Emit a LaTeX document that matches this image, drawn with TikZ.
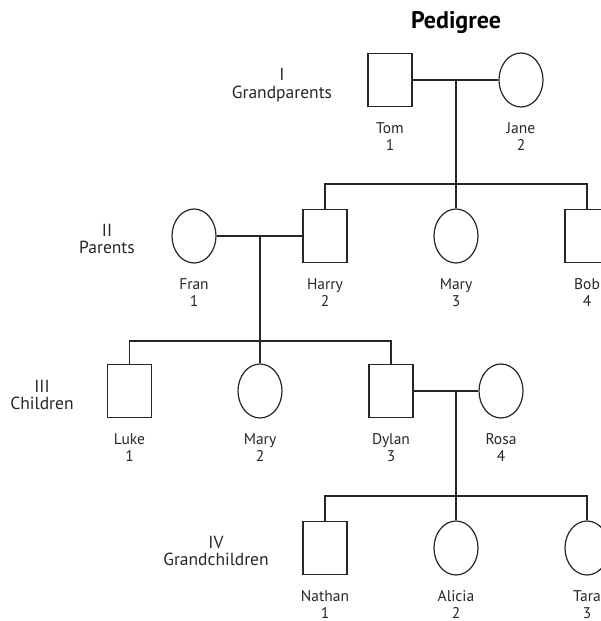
\documentclass[tikz,border=0pt]{standalone}
\usepackage{fontspec}
\setmainfont{PT Sans}
\usetikzlibrary{shapes.geometric}
\tikzset{
  male/.style={draw=black!85, line width=1.2pt, rectangle, minimum width=44pt, minimum height=53pt, inner sep=0pt},
  female/.style={draw=black!85, line width=1.2pt, ellipse, minimum width=44pt, minimum height=54pt, inner sep=0pt},
  lbl/.style={anchor=base, inner sep=0pt, font=\fontsize{15.5}{16}\selectfont, text=black!85},
  gen/.style={anchor=base, inner sep=0pt, font=\fontsize{17.5}{18}\selectfont, text=black!85},
  conn/.style={draw=black!85, line width=1.2pt},
}
\begin{document}
\begin{tikzpicture}[x=1pt,y=-1pt]
\useasboundingbox (0,0) rectangle (600,621);
% title
\node[anchor=base, inner sep=0pt, font=\fontsize{24}{26}\selectfont\bfseries] (title) at (456,28) {Pedigree};
% generation labels
\node[gen] (g1a) at (282,80) {I};
\node[gen] (g1b) at (282,98) {Grandparents};
\node[gen] (g2a) at (107,236) {II};
\node[gen] (g2b) at (107,253) {Parents};
\node[gen] (g3a) at (42,392) {III};
\node[gen] (g3b) at (42,409) {Children};
\node[gen] (g4a) at (216,548) {IV};
\node[gen] (g4b) at (216,565) {Grandchildren};
% generation I
\node[male] (tom) at (390,80) {};
\node[female] (jane) at (521,80) {};
\node[lbl] (tomn) at (390,133) {Tom};
\node[lbl] (tomk) at (390,150) {1};
\node[lbl] (janen) at (521,133) {Jane};
\node[lbl] (janek) at (521,150) {2};
% generation II
\node[female] (fran) at (194,236) {};
\node[male] (harry) at (325,236) {};
\node[female] (mary2) at (456,236) {};
\node[male] (bob) at (587,236) {};
\node[lbl] (frann) at (194,289) {Fran};
\node[lbl] (frank) at (194,306) {1};
\node[lbl] (harryn) at (325,289) {Harry};
\node[lbl] (harryk) at (325,306) {2};
\node[lbl] (mary2n) at (456,289) {Mary};
\node[lbl] (mary2k) at (456,306) {3};
\node[lbl] (bobn) at (587,289) {Bob};
\node[lbl] (bobk) at (587,306) {4};
% generation III
\node[male] (luke) at (129.5,391) {};
\node[female] (mary3) at (260,391) {};
\node[male] (dylan) at (391,391) {};
\node[female] (rosa) at (501,391) {};
\node[lbl] (luken) at (129.5,444) {Luke};
\node[lbl] (lukek) at (129.5,461) {1};
\node[lbl] (mary3n) at (260,444) {Mary};
\node[lbl] (mary3k) at (260,461) {2};
\node[lbl] (dylann) at (391,444) {Dylan};
\node[lbl] (dylank) at (391,461) {3};
\node[lbl] (rosan) at (501,444) {Rosa};
\node[lbl] (rosak) at (501,461) {4};
% generation IV
\node[male] (nathan) at (325,548) {};
\node[female] (alicia) at (456,548) {};
\node[female] (tara) at (587,548) {};
\node[lbl] (nathann) at (325,601) {Nathan};
\node[lbl] (nathank) at (325,618) {1};
\node[lbl] (alician) at (456,601) {Alicia};
\node[lbl] (aliciak) at (456,618) {2};
\node[lbl] (taran) at (587,601) {Tara};
\node[lbl] (tarak) at (587,618) {3};
% coordinates
\coordinate (m1) at (456,80);
\coordinate (s1) at (456,184);
\coordinate (m2) at (260,236);
\coordinate (s2) at (260,341);
\coordinate (m3) at (456,391);
\coordinate (s3) at (456,496);
% connectors
\draw[conn] (tom.east) -- (jane.west);
\draw[conn] (m1) -- (s1);
\draw[conn] (harry.north) -- (harry.north |- s1) -- (bob.north |- s1) -- (bob.north);
\draw[conn] (mary2.north) -- (mary2.north |- s1);
\draw[conn] (fran.east) -- (harry.west);
\draw[conn] (m2) -- (s2);
\draw[conn] (luke.north) -- (luke.north |- s2) -- (dylan.north |- s2) -- (dylan.north);
\draw[conn] (mary3.north) -- (mary3.north |- s2);
\draw[conn] (dylan.east) -- (rosa.west);
\draw[conn] (m3) -- (s3);
\draw[conn] (nathan.north) -- (nathan.north |- s3) -- (tara.north |- s3) -- (tara.north);
\draw[conn] (alicia.north) -- (alicia.north |- s3);
\end{tikzpicture}
\end{document}
